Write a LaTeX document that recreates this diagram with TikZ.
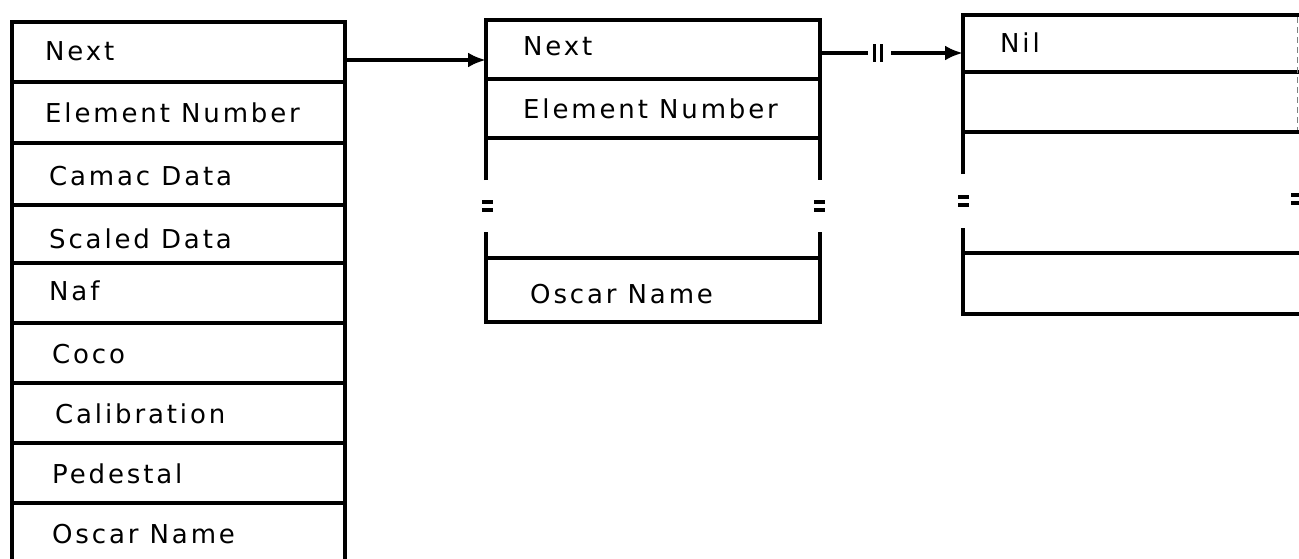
\documentclass[tikz,border=0pt]{standalone}
\usepackage{fontspec}
\setmainfont{DejaVu Sans}[LetterSpace=11]
\usetikzlibrary{arrows.meta}
\begin{document}
\begin{tikzpicture}[x=1pt,y=-1pt,
  frame/.style={line width=4.5pt},
  lbl/.style={anchor=base west, inner sep=0pt, font=\fontsize{26}{26}\selectfont},
  link/.style={line width=4pt, -{Latex[length=18pt,width=15pt]}},
  plainlink/.style={line width=4pt},
  breakmark/.style={line width=3pt},
  eqmark/.style={line width=3.5pt}]
\useasboundingbox (0,0) rectangle (1299,558);

% ---- record 1: full element descriptor ----
\draw[frame] (12,562) -- (12,22) -- (345,22) -- (345,562);
\foreach \y in {82,143,205,263,323,383,443,503}
  \draw[frame] (12,\y) -- (345,\y);
\node[lbl] (r1next)  at (45,60)  {Next};
\node[lbl] (r1elem)  at (45,122) {Element Number};
\node[lbl] (r1camac) at (49,185) {Camac Data};
\node[lbl] (r1scal)  at (49,248) {Scaled Data};
\node[lbl] (r1naf)   at (49,300) {Naf};
\node[lbl] (r1coco)  at (52,363) {Coco};
\node[lbl] (r1cal)   at (55,423) {Calibration};
\node[lbl] (r1ped)   at (52,483) {Pedestal};
\node[lbl] (r1osc)   at (52,543) {Oscar Name};

% ---- record 2: abbreviated element ----
\draw[frame] (486,180) -- (486,20) -- (820,20) -- (820,180);
\draw[frame] (486,232) -- (486,322) -- (820,322) -- (820,232);
\foreach \y in {79,138,258}
  \draw[frame] (486,\y) -- (820,\y);
\draw[eqmark] (482,202) -- (493,202) (482,210) -- (493,210);
\draw[eqmark] (814,202) -- (825,202) (814,210) -- (825,210);
\node[lbl] (r2next) at (523,55)  {Next};
\node[lbl] (r2elem) at (523,118) {Element Number};
\node[lbl] (r2osc)  at (530,303) {Oscar Name};

% ---- record 3: end of list ----
\draw[frame] (963,174) -- (963,15) -- (1300,15);
\draw[frame] (963,228) -- (963,314) -- (1300,314);
\foreach \y in {72,132,253}
  \draw[frame] (963,\y) -- (1300,\y);
\draw[gray, line width=1pt, dash pattern=on 6pt off 4pt] (1297,17) -- (1297,130);
\draw[eqmark] (958,197) -- (969,197) (958,205) -- (969,205);
\draw[eqmark] (1291,195) -- (1300,195) (1291,203) -- (1300,203);
\node[lbl] (r3nil) at (1000,52) {Nil};

% ---- links ----
\coordinate (r1out) at (345,60);
\coordinate (r2in)  at (486,60);
\coordinate (r2out) at (820,53);
\coordinate (cutA)  at (868,53);
\coordinate (cutB)  at (891,53);
\coordinate (r3in)  at (963,53);
\draw[link] (r1out) -- (r2in);
\draw[plainlink] (r2out) -- (cutA);
\draw[breakmark] (874,44) -- (874,62) (881,44) -- (881,62);
\draw[link] (cutB) -- (r3in);
\end{tikzpicture}
\end{document}
